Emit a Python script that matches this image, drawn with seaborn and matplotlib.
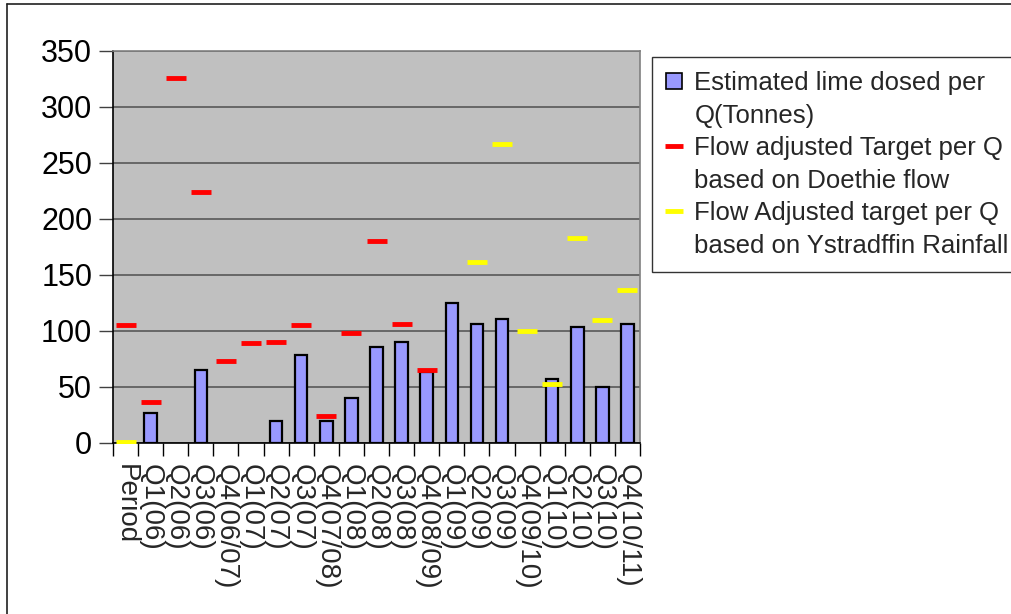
import numpy as np
import pandas as pd
import seaborn as sns
import matplotlib.pyplot as plt
from matplotlib.lines import Line2D
from matplotlib.patches import Patch

# Data
periods = ['Period', 'Q1(06)', 'Q2(06)', 'Q3(06)', 'Q4(06/07)', 'Q1(07)', 'Q2(07)',
           'Q3(07)', 'Q4(07/08)', 'Q1(08)', 'Q2(08)', 'Q3(08)', 'Q4(08/09)', 'Q1(09)',
           'Q2(09)', 'Q3(09)', 'Q4(09/10)', 'Q1(10)', 'Q2(10)', 'Q3(10)', 'Q4(10/11)']
lime_dosed = [np.nan, 27, np.nan, 65, np.nan, np.nan, 20, 79, 20, 40, 86, 90, 63,
              125, 106, 111, np.nan, 57, 104, 50, 106]
target_doethie = [105, 37, 326, 224, 73, 89, 90, 105, 24, 98, 180, 106, 65,
                  np.nan, np.nan, np.nan, np.nan, np.nan, np.nan, np.nan, np.nan]
target_ystradffin = [1, np.nan, np.nan, np.nan, np.nan, np.nan, np.nan, np.nan, np.nan,
                     np.nan, np.nan, np.nan, np.nan, np.nan, 162, 267, 100, 53, 183, 110, 137]

# legend text, one entry per line (second lines carry no symbol)
legend_lines = ['Estimated lime dosed per', 'Q(Tonnes)',
                'Flow adjusted Target per Q', 'based on Doethie flow',
                'Flow Adjusted target per Q', 'based on Ystradffin Rainfall']

df = pd.DataFrame({'period': periods, 'lime': lime_dosed,
                   'doethie': target_doethie, 'ystradffin': target_ystradffin})

sns.set_style('white')
plt.rcParams['font.family'] = ['Liberation Sans', 'DejaVu Sans']

fig = plt.figure(figsize=(10.11, 6.14), dpi=100)
ax = fig.add_axes([113 / 1011, 1 - 443 / 614, 527 / 1011, 392 / 614])
ax.set_facecolor('#C0C0C0')

sns.barplot(data=df, x='period', y='lime', order=periods, color='#9999FF',
            saturation=1, width=0.5, edgecolor='black', linewidth=1.6, ax=ax, zorder=3)
sns.pointplot(data=df, x='period', y='doethie', order=periods, color='red',
              errorbar=None, marker='_', markersize=14, markeredgewidth=3.5,
              linestyle='none', ax=ax, zorder=4)
sns.pointplot(data=df, x='period', y='ystradffin', order=periods, color='yellow',
              errorbar=None, marker='_', markersize=14, markeredgewidth=3.5,
              linestyle='none', ax=ax, zorder=4)

ax.set_ylim(0, 350)
ax.set_xlim(-0.5, len(periods) - 0.5)
ax.set_yticks(range(0, 351, 50))
ax.yaxis.grid(True, color='#606060', linewidth=1.3, zorder=0)
ax.xaxis.grid(False)
ax.set_axisbelow(True)
ax.set_xlabel('')
ax.set_ylabel('')

ax.set_xticks(range(len(periods)))
ax.set_xticklabels(periods, rotation=270, fontsize=20, va='top', ha='center')
ax.set_xticks(np.arange(-0.5, len(periods), 1), minor=True)
ax.tick_params(axis='x', which='major', length=0, pad=15)
ax.tick_params(axis='x', which='minor', length=9, width=1, color='black', direction='out', bottom=True)
ax.tick_params(axis='y', length=10, width=1, color='#404040', direction='out', left=True,
               labelsize=22, labelcolor='black', pad=5)

for side in ['left', 'bottom']:
    ax.spines[side].set_color('black')
    ax.spines[side].set_linewidth(1.2)
for side in ['top', 'right']:
    ax.spines[side].set_color('#808080')
    ax.spines[side].set_linewidth(1.2)

blank = Line2D([], [], linestyle='none', marker=None)
handles = [Patch(facecolor='#9999FF', edgecolor='black', linewidth=1.2), blank,
           Line2D([], [], color='red', marker='_', markersize=13, markeredgewidth=3.5, linestyle='none'), blank,
           Line2D([], [], color='yellow', marker='_', markersize=13, markeredgewidth=3.5, linestyle='none'), blank]
leg = fig.legend(handles, legend_lines, loc='upper left', bbox_to_anchor=(652 / 1011, 1 - 57 / 614),
                 fontsize=18.5, frameon=True, fancybox=False, borderaxespad=0,
                 handlelength=0.6, handleheight=0.6, handletextpad=0.5, borderpad=0.55,
                 labelspacing=0.33)
leg.get_frame().set_edgecolor('black')
leg.get_frame().set_linewidth(1)

# outer chart border (top and left visible)
fig.add_artist(Line2D([7 / 1011, 1], [1 - 4 / 614, 1 - 4 / 614], color='#202020', linewidth=1.2))
fig.add_artist(Line2D([7 / 1011, 7 / 1011], [0, 1 - 4 / 614], color='#202020', linewidth=1.2))

fig.savefig('out.png', dpi=100)
